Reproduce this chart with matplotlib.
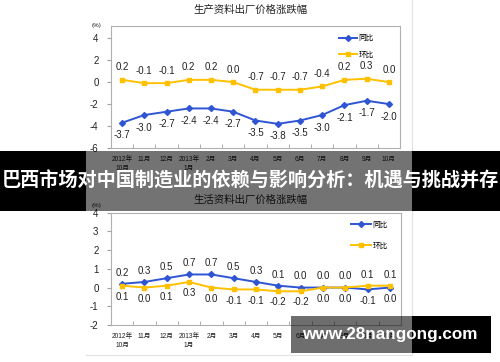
import matplotlib
matplotlib.use("Agg")
import matplotlib.pyplot as plt
from matplotlib.patches import Rectangle
from matplotlib.lines import Line2D

plt.rcParams['font.family'] = ['Liberation Sans', 'Noto Sans CJK SC', 'DejaVu Sans']

months = ["2012年\n10月", "11月", "12月", "2013年\n1月", "2月", "3月", "4月",
          "5月", "6月", "7月", "8月", "9月", "10月"]

prod_yoy = [-3.7, -3.0, -2.7, -2.4, -2.4, -2.7, -3.5, -3.8, -3.5, -3.0, -2.1, -1.7, -2.0]
prod_mom = [0.2, -0.1, -0.1, 0.2, 0.2, 0.0, -0.7, -0.7, -0.7, -0.4, 0.2, 0.3, 0.0]

cons_yoy = [0.2, 0.3, 0.5, 0.7, 0.7, 0.5, 0.3, 0.1, 0.0, 0.0, 0.0, -0.1, 0.0]
cons_mom = [0.1, 0.0, 0.1, 0.3, 0.0, -0.1, -0.1, -0.2, -0.2, 0.0, 0.0, 0.1, 0.1]

title_top = "生产资料出厂价格涨跌幅"
title_bot = "生活资料出厂价格涨跌幅"
series_names = ["同比", "环比"]
banner_text = "巴西市场对中国制造业的依赖与影响分析：机遇与挑战并存"
watermark = "www.28nangong.com"

BLUE = '#2F55D4'
YEL = '#FFC000'
W, H = 500, 362

fig = plt.figure(figsize=(W / 100, H / 100), dpi=100)
fig.patch.set_facecolor('white')


def px_axes(l, t, r, b):
    return fig.add_axes([l / W, 1 - b / H, (r - l) / W, (b - t) / H])


def style(ax, ylim, yticks):
    x = list(range(len(months)))
    ax.set_xlim(-0.5, len(months) - 0.5)
    ax.set_ylim(*ylim)
    ax.set_yticks(yticks)
    ax.set_yticklabels([f"{v:g}" for v in yticks], fontsize=7, color='#222222')
    ax.set_xticks(x)
    ax.set_xticklabels(months, fontsize=4.8, color='#222222', linespacing=1.3)
    ax.set_xticks([i + 0.5 for i in range(len(months) - 1)], minor=True)
    ax.tick_params(axis='x', which='major', length=0, pad=6)
    ax.tick_params(axis='x', which='minor', direction='in', length=3, color='#A0A0A0')
    ax.tick_params(axis='y', length=3, color='#A0A0A0', pad=6)
    for s in ax.spines.values():
        s.set_color('#B0B0B0')
        s.set_linewidth(0.8)
    return x


# ---- top chart
ax1 = px_axes(111, 26, 400, 148)
x = style(ax1, (-6, 5.1), [-6, -4, -2, 0, 2, 4])
ax1.plot(x, prod_yoy, color=BLUE, lw=1.4, marker='D', ms=3, label=series_names[0])
ax1.plot(x, prod_mom, color=YEL, lw=1.4, marker='s', ms=3.5, label=series_names[1])
for i in x:
    ax1.annotate(f"{prod_yoy[i]:.1f}", (i, prod_yoy[i]), xytext=(0, -9), textcoords='offset points',
                 ha='center', va='center', fontsize=7, color='#222222')
    ax1.annotate(f"{prod_mom[i]:.1f}", (i, prod_mom[i]), xytext=(0, 9), textcoords='offset points',
                 ha='center', va='center', fontsize=7, color='#222222')
ax1.legend(loc='upper left', bbox_to_anchor=(0.77, 0.97), frameon=False, fontsize=5.5,
           handlelength=2.4, labelspacing=1.2, handletextpad=0.2, borderpad=0.2)
fig.text(251 / W, 1 - 10 / H, title_top, ha='center', va='center', fontsize=7.5, color='#222222')
fig.text(97 / W, 1 - 25 / H, "(%)", ha='center', va='center', fontsize=4.5, color='#222222')

# ---- bottom chart
ax2 = px_axes(111, 212.7, 401, 325)
x = style(ax2, (-2, 4), [-2, -1, 0, 1, 2, 3, 4])
ax2.plot(x, cons_yoy, color=BLUE, lw=1.4, marker='D', ms=3, label=series_names[0])
ax2.plot(x, cons_mom, color=YEL, lw=1.4, marker='s', ms=3.5, label=series_names[1])
for i in x:
    hi_blue = cons_yoy[i] >= cons_mom[i]
    ax2.annotate(f"{cons_yoy[i]:.1f}", (i, cons_yoy[i]), xytext=(0, 8 if hi_blue else -8),
                 textcoords='offset points', ha='center', va='center', fontsize=7, color='#222222')
    ax2.annotate(f"{cons_mom[i]:.1f}", (i, cons_mom[i]), xytext=(0, -8 if hi_blue else 8),
                 textcoords='offset points', ha='center', va='center', fontsize=7, color='#222222')
ax2.legend(loc='upper left', bbox_to_anchor=(0.81, 0.97), frameon=False, fontsize=5.5,
           handlelength=2.6, labelspacing=1.8, handletextpad=0.2, borderpad=0.2)
fig.text(251 / W, 1 - 200 / H, title_bot, ha='center', va='center', fontsize=7.5, color='#222222')
fig.text(97 / W, 1 - 205 / H, "(%)", ha='center', va='center', fontsize=4.5, color='#222222')

# ---- screenshot border lines
fig.add_artist(Line2D([412 / W, 412 / W], [1 - 355 / H, 1], transform=fig.transFigure,
                      color='#E2E2E2', lw=0.8, zorder=5))
fig.add_artist(Line2D([86 / W, 412 / W], [1 - 355 / H, 1 - 355 / H], transform=fig.transFigure,
                      color='#E2E2E2', lw=0.8, zorder=5))


def rect(l, t, r, b, alpha):
    fig.add_artist(Rectangle((l / W, 1 - b / H), (r - l) / W, (b - t) / H, transform=fig.transFigure,
                             facecolor='black', edgecolor='none', alpha=alpha, zorder=10))


# ---- banner overlay
rect(0, 151, 86, 211, 1.0)
rect(412, 151, 500, 211, 1.0)
rect(86, 151, 412, 211, 0.55)
fig.text(250 / W, 1 - 181 / H, banner_text, ha='center', va='center', fontsize=13.8,
         fontweight='bold', color='white', family=['Noto Sans CJK SC', 'DejaVu Sans'], zorder=11)

# ---- watermark overlay
rect(291, 316, 412, 353, 0.57)
rect(412, 316, 491, 353, 1.0)
fig.text(390 / W, 1 - 335 / H, watermark, ha='center', va='center', fontsize=12.3,
         fontweight='bold', color='white', family=['Liberation Sans'], zorder=11)

fig.savefig("out.png", dpi=100, facecolor='white')
